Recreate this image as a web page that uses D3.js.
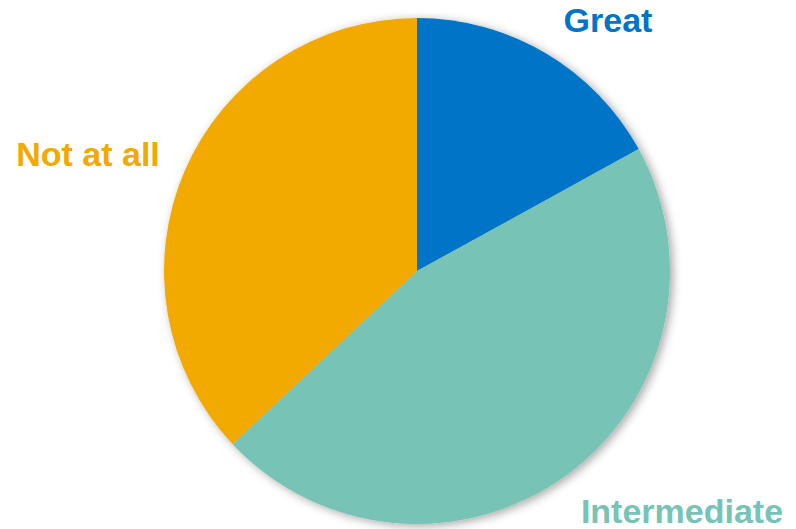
<!DOCTYPE html>
<html>
<head>
<meta charset="utf-8">
<script src="https://cdn.jsdelivr.net/npm/d3@7"></script>
<style>
  html, body { margin: 0; padding: 0; background: #fff; }
  svg { display: block; }
  text { font-family: "Liberation Sans", Arial, sans-serif; font-weight: bold; }
</style>
</head>
<body>
<svg id="chart" width="796" height="529"></svg>
<script>
// Survey answers, share of respondents (%)
const categories = ["Great", "Intermediate", "Not at all"];
const values = [17, 46, 37];
const colors = ["#0074C8", "#77C3B6", "#F2A900"];
// Label anchor points (label positions around the pie)
const labelX = [608, 682, 88];
const labelY = [32, 523, 166];

const width = 796, height = 529;
const cx = 417, cy = 271, radius = 253;

const svg = d3.select("#chart");

const defs = svg.append("defs");
const shadow = defs.append("filter")
  .attr("id", "pieShadow")
  .attr("x", "-10%").attr("y", "-10%")
  .attr("width", "120%").attr("height", "120%");
shadow.append("feDropShadow")
  .attr("dx", 3).attr("dy", 2)
  .attr("stdDeviation", 5)
  .attr("flood-color", "#000")
  .attr("flood-opacity", 0.35);

const data = categories.map((c, i) => ({ name: c, value: values[i], color: colors[i], lx: labelX[i], ly: labelY[i] }));

const pie = d3.pie().sort(null).value(d => d.value);
const arc = d3.arc().innerRadius(0).outerRadius(radius);

const g = svg.append("g")
  .attr("transform", `translate(${cx},${cy})`)
  .attr("filter", "url(#pieShadow)");

g.selectAll("path")
  .data(pie(data))
  .join("path")
  .attr("d", arc)
  .attr("fill", d => d.data.color);

svg.selectAll("text.label")
  .data(data)
  .join("text")
  .attr("class", "label")
  .attr("x", d => d.lx)
  .attr("y", d => d.ly)
  .attr("text-anchor", "middle")
  .attr("font-size", 34)
  .attr("fill", d => d.color)
  .text(d => d.name);
</script>
</body>
</html>
